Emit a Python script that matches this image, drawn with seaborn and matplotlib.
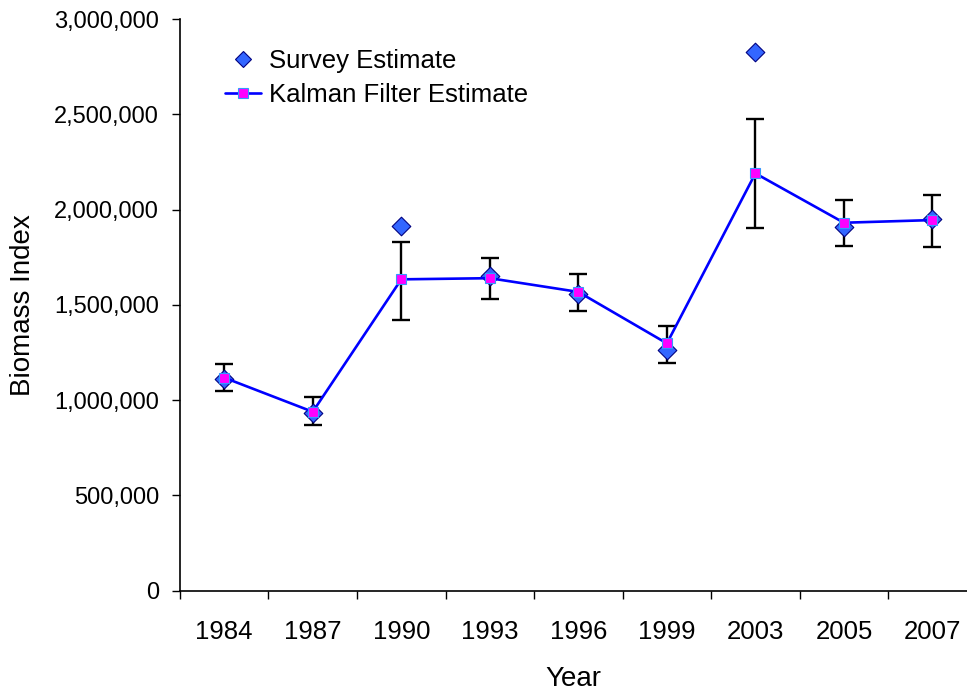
import matplotlib
matplotlib.use("Agg")
import matplotlib.pyplot as plt
import matplotlib.ticker as mticker
from matplotlib.lines import Line2D
import seaborn as sns
import pandas as pd
import numpy as np

years = ["1984", "1987", "1990", "1993", "1996", "1999", "2003", "2005", "2007"]
survey = [1110000, 931000, 1915000, 1652000, 1557000, 1263000, 2826000, 1910000, 1949000]
kalman = [1118000, 939000, 1634000, 1640000, 1568000, 1298000, 2190000, 1931000, 1945000]
err_low = [1050000, 870000, 1421000, 1531000, 1466000, 1197000, 1902000, 1811000, 1802000]
err_high = [1188000, 1018000, 1832000, 1744000, 1662000, 1389000, 2474000, 2050000, 2078000]

sns.set_style("white")
plt.rcParams['font.family'] = ['Liberation Sans', 'DejaVu Sans']
plt.rcParams['text.color'] = 'black'
plt.rcParams['axes.labelcolor'] = 'black'
plt.rcParams['xtick.color'] = 'black'
plt.rcParams['ytick.color'] = 'black'

df = pd.DataFrame({"pos": np.arange(len(years)), "Year": years,
                   "survey": survey, "kalman": kalman,
                   "lo": err_low, "hi": err_high})

fig = plt.figure(figsize=(9.67, 6.94), dpi=100)
ax = fig.add_axes([0.1861, 0.1488, 0.8139, 0.8238])

# error bars
k = df["kalman"].to_numpy()
ax.errorbar(df["pos"], k, yerr=[k - df["lo"].to_numpy(), df["hi"].to_numpy() - k],
            fmt="none", ecolor="black", elinewidth=1.7, capsize=6.5, capthick=1.7, zorder=2)

sns.scatterplot(data=df, x="pos", y="survey", marker="D", s=90, color="#3366FF",
                edgecolor="#000080", linewidth=0.8, ax=ax, zorder=3, legend=False)
sns.lineplot(data=df, x="pos", y="kalman", color="#0000FF", linewidth=1.9,
             marker="s", markersize=6.5, markerfacecolor="#FF00FF",
             markeredgecolor="#3399FF", markeredgewidth=0.8, ax=ax, zorder=4,
             legend=False)

ax.set_xlim(-0.5, 8.39)
ax.set_ylim(0, 3000000)
ax.yaxis.set_major_locator(mticker.MultipleLocator(500000))
ax.yaxis.set_major_formatter(mticker.StrMethodFormatter("{x:,.0f}"))

ax.xaxis.set_major_locator(mticker.FixedLocator(np.arange(-0.5, 9.0, 1.0)))
ax.xaxis.set_major_formatter(mticker.NullFormatter())
ax.xaxis.set_minor_locator(mticker.FixedLocator(df["pos"]))
ax.xaxis.set_minor_formatter(mticker.FixedFormatter(years))
ax.tick_params(axis="x", which="major", bottom=True, direction="out", length=5.5, width=1,
               color="black")
ax.tick_params(axis="x", which="minor", bottom=True, length=0, pad=21, labelsize=18.5,
               labelcolor="black")
ax.tick_params(axis="y", which="major", left=True, direction="out", length=6, width=1,
               color="black", labelsize=17, pad=9, labelcolor="black")

for s in ["top", "right"]:
    ax.spines[s].set_visible(False)
for s in ["left", "bottom"]:
    ax.spines[s].set_color("black")
    ax.spines[s].set_linewidth(1.2)

ax.set_xlabel("Year", fontsize=20, labelpad=16, color="black")
ax.set_ylabel("Biomass Index", fontsize=20, labelpad=13, color="black")

handles = [
    Line2D([], [], linestyle="none", marker="D", markersize=8.5, markerfacecolor="#3366FF",
           markeredgecolor="#000080", markeredgewidth=0.8),
    Line2D([], [], color="#0000FF", linewidth=1.9, marker="s", markersize=6.5,
           markerfacecolor="#FF00FF", markeredgecolor="#3399FF", markeredgewidth=0.8),
]
leg = ax.legend(handles, ["Survey Estimate", "Kalman Filter Estimate"], loc="upper left",
                bbox_to_anchor=(0.057, 0.948), frameon=False, fontsize=18.5,
                handlelength=1.4, handletextpad=0.3, labelspacing=0.4,
                borderpad=0, borderaxespad=0)
for t in leg.get_texts():
    t.set_color("black")

fig.savefig("out.png", dpi=100)
